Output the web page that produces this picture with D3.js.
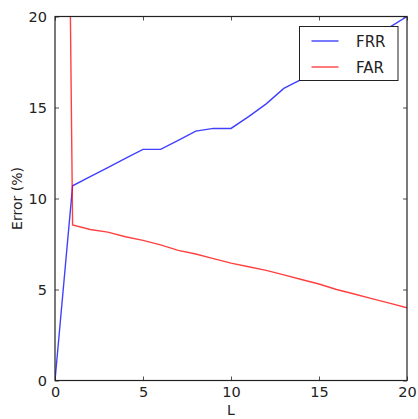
<!DOCTYPE html>
<html><head><meta charset="utf-8">
<script src="https://cdn.jsdelivr.net/npm/d3@7"></script>
<style>body{margin:0;background:#fff}svg{display:block;font-family:"DejaVu Sans",sans-serif}</style>
</head><body><svg id="c" width="418" height="419"></svg>
<script>
const L = [0,1,2,3,4,5,6,7,8,9,10,11,12,13,14,15,16,17,18,19,20];
const FRR = [0,10.7,11.2,11.7,12.2,12.7,12.7,13.2,13.7,13.85,13.85,14.5,15.2,16.05,16.55,17.1,17.6,18.2,18.8,19.4,20];
const FAR = [100,8.55,8.3,8.15,7.9,7.7,7.45,7.15,6.95,6.7,6.45,6.25,6.05,5.8,5.55,5.3,5.0,4.75,4.5,4.25,4.0];
const xTicks = [0,5,10,15,20];
const yTicks = [0,5,10,15,20];
const seriesNames = ["FRR","FAR"];
const colors = ["#0000ff","#ff0000"];

const svg = d3.select("#c");
const m = {l:55, r:407, t:16.5, b:380.5};
const x = d3.scaleLinear().domain([0,20]).range([m.l,m.r]);
const y = d3.scaleLinear().domain([0,20]).range([m.b,m.t]);

svg.append("defs").append("clipPath").attr("id","clip")
  .append("rect").attr("x",m.l).attr("y",m.t).attr("width",m.r-m.l).attr("height",m.b-m.t);

const line = d3.line().x((d,i)=>x(L[i])).y(d=>y(d));
const g = svg.append("g").attr("clip-path","url(#clip)");
[FRR,FAR].forEach((s,k)=>{
  g.append("path").datum(s).attr("d",line).attr("fill","none")
   .attr("stroke",colors[k]).attr("stroke-width",1.4).attr("stroke-opacity",0.75);
});

const axColor = "#222";
function styleAxis(sel, noText){
  sel.select(".domain").remove();
  sel.selectAll(".tick line").attr("stroke",axColor).attr("stroke-width",0.8);
  sel.selectAll(".tick text").attr("fill","#222").style("font-size","14.5px")
     .style("font-family","'DejaVu Sans',sans-serif");
  if(noText) sel.selectAll(".tick text").remove();
}
svg.append("g").attr("transform",`translate(0,${m.b})`)
  .call(d3.axisBottom(x).tickValues(xTicks).tickSizeInner(-4).tickPadding(6.5).tickFormat(d3.format("d")))
  .call(s=>styleAxis(s,false));
svg.append("g").attr("transform",`translate(0,${m.t})`)
  .call(d3.axisTop(x).tickValues(xTicks).tickSizeInner(-4))
  .call(s=>styleAxis(s,true));
svg.append("g").attr("transform",`translate(${m.l},0)`)
  .call(d3.axisLeft(y).tickValues(yTicks).tickSizeInner(-4).tickPadding(8).tickFormat(d3.format("d")))
  .call(s=>styleAxis(s,false));
svg.append("g").attr("transform",`translate(${m.r},0)`)
  .call(d3.axisRight(y).tickValues(yTicks).tickSizeInner(-4))
  .call(s=>styleAxis(s,true));

svg.append("rect").attr("x",m.l).attr("y",m.t).attr("width",m.r-m.l).attr("height",m.b-m.t)
  .attr("fill","none").attr("stroke",axColor).attr("stroke-width",1.2);

svg.append("text").attr("x",(m.l+m.r)/2).attr("y",415).attr("text-anchor","middle")
  .attr("fill","#222").style("font-size","14px").text("L");
svg.append("text").attr("transform",`translate(22,${(m.t+m.b)/2}) rotate(-90)`).attr("text-anchor","middle")
  .attr("fill","#222").style("font-size","14px").text("Error (%)");

// legend
const lg = svg.append("g");
lg.append("rect").attr("x",299.5).attr("y",26.5).attr("width",98.5).attr("height",54)
  .attr("fill","#fff").attr("stroke",axColor).attr("stroke-width",1);
seriesNames.forEach((n,k)=>{
  const yy = 41 + k*26;
  lg.append("line").attr("x1",311.5).attr("x2",338.5).attr("y1",yy).attr("y2",yy)
    .attr("stroke",colors[k]).attr("stroke-width",1.4).attr("stroke-opacity",0.75);
  lg.append("text").attr("x",356).attr("y",yy+5.5).attr("fill","#222").style("font-size","15px").text(n);
});
</script></body></html>
